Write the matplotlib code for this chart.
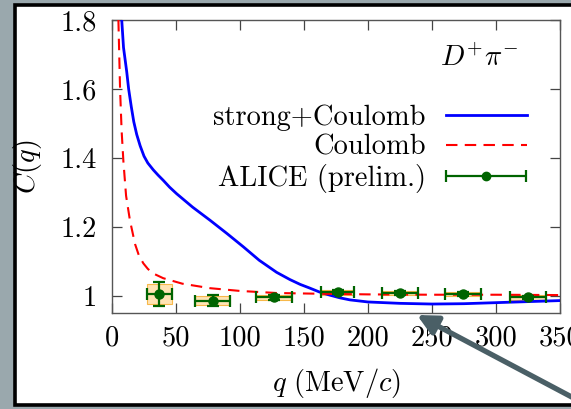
import numpy as np
import matplotlib
matplotlib.use('Agg')
import matplotlib.pyplot as plt
from matplotlib.patches import Rectangle
from matplotlib.legend_handler import HandlerErrorbar

plt.rcParams['font.family'] = 'serif'
plt.rcParams['font.serif'] = ['cmr10']
plt.rcParams['mathtext.fontset'] = 'cm'
plt.rcParams['axes.unicode_minus'] = False

# --- strong + Coulomb (blue) ---
q_strong = [7.6, 9.0, 11.5, 13.0, 15.0, 17.0, 19.3, 22.0, 25.0, 28.0, 32.3, 36.0,
            40.0, 45.0, 50.5, 63.0, 76.6, 90.0, 102.6, 115.0, 128.6, 139.0, 147.0,
            154.7, 162.0, 170.0, 178.0, 186.0, 200.0, 225.0, 250.0, 275.0, 300.0,
            325.0, 350.0]
c_strong = [1.80, 1.72, 1.65, 1.60, 1.55, 1.505, 1.468, 1.435, 1.405, 1.385, 1.365,
            1.350, 1.335, 1.315, 1.296, 1.257, 1.219, 1.18, 1.142, 1.103, 1.068,
            1.047, 1.033, 1.022, 1.011, 1.002, 0.994, 0.988, 0.982, 0.978, 0.976,
            0.977, 0.980, 0.983, 0.986]

# --- Coulomb only (red dashed) ---
q_coul = [5.0, 6.3, 7.5, 8.9, 11.0, 14.0, 18.0, 21.0, 24.5, 28.0, 32.0, 40.0,
          55.0, 76.6, 100.0, 128.6, 160.0, 200.0, 250.0, 300.0, 350.0]
c_coul = [1.80, 1.60, 1.48, 1.39, 1.29, 1.219, 1.15, 1.117, 1.094, 1.078, 1.065,
          1.051, 1.035, 1.022, 1.014, 1.008, 1.006, 1.004, 1.003, 1.003, 1.002]

# --- ALICE preliminary ---
q_data = [37.0, 78.6, 126.6, 176.3, 225.0, 274.5, 324.7]
c_data = [1.005, 0.986, 0.995, 1.010, 1.008, 1.005, 0.995]
q_err = [9.5, 13.7, 14.4, 13.0, 14.0, 14.0, 14.0]
c_stat = [0.036, 0.017, 0.008, 0.006, 0.005, 0.005, 0.005]
c_sys = [0.028, 0.013, 0.008, 0.007, 0.006, 0.006, 0.006]

x_ticks = [0, 50, 100, 150, 200, 250, 300, 350]
y_ticks = [1.0, 1.2, 1.4, 1.6, 1.8]
y_ticklabels = ['1', '1.2', '1.4', '1.6', '1.8']

W, H = 571, 409
fig = plt.figure(figsize=(W / 100, H / 100), dpi=100, facecolor='#9aa8ad')

# white slide panel with black frame
fig.patches.append(Rectangle((15 / W, 1 - 404.5 / H), 1.2, 400 / H,
                             transform=fig.transFigure, fc='white', ec='black',
                             lw=2.6, zorder=-5))

ax = fig.add_axes([112 / W, 1 - 313 / H, 448 / W, 293 / H])
ax.set_facecolor('white')

fs = 20.5
green = '#006400'

# systematic boxes
for q, c, dq, s in zip(q_data, c_data, q_err, c_sys):
    ax.add_patch(Rectangle((q - dq, c - s), 2 * dq, 2 * s, fc='#ffe3b3',
                           ec='#f7b84a', lw=0.8, zorder=2))

ax.plot(q_strong, c_strong, color='#0000ff', lw=2.0, zorder=3,
        label='strong+Coulomb')
ax.plot(q_coul, c_coul, color='#ff0000', lw=1.5, ls=(0, (5.5, 3.5)), zorder=3,
        label='Coulomb')
ax.errorbar(q_data, c_data, xerr=q_err, yerr=c_stat, fmt='o', color=green,
            ms=6.5, elinewidth=1.6, capsize=4, capthick=1.6, zorder=4)
# legend proxy (horizontal bar only)
ax.errorbar([-100], [1.0], xerr=[10], fmt='o', color=green, ms=6,
            elinewidth=1.6, capsize=4, capthick=1.6, label='ALICE (prelim.)')

ax.set_xlim(0, 350)
ax.set_ylim(0.95, 1.8)
ax.set_xticks(x_ticks)
ax.set_yticks(y_ticks)
ax.set_yticklabels(y_ticklabels)

ax.tick_params(direction='in', top=True, right=True, length=7, width=0.9,
               color='#444444', labelsize=fs)
ax.tick_params(axis='x', pad=9)
ax.tick_params(axis='y', pad=11)
for sp in ax.spines.values():
    sp.set_color('#555555')
    sp.set_linewidth(1.0)

ax.set_xlabel(r'$q\ (\mathrm{MeV}/c)$', fontsize=fs, labelpad=10)
ax.set_ylabel(r'$C(q)$', fontsize=fs, labelpad=12)

ax.text(0.907, 0.87, r'$D^{+}\pi^{-}$', transform=ax.transAxes, fontsize=fs,
        ha='right', va='center')

ax.legend(loc='center right', bbox_to_anchor=(0.926, 0.56), frameon=False,
          fontsize=fs, markerfirst=False, handlelength=2.85, handletextpad=0.7,
          labelspacing=0.12, borderaxespad=0, borderpad=0, numpoints=1,
          handler_map={type(ax.containers[-1]): HandlerErrorbar(xerr_size=1.4)})

# arrow drawn on the slide
ax.annotate('', xy=(417, H - 315), xycoords='figure pixels',
            xytext=(600, H - 412), textcoords='figure pixels',
            arrowprops=dict(arrowstyle='-|>', lw=3.8, color='#4a5f66',
                            mutation_scale=30, shrinkA=0, shrinkB=0),
            annotation_clip=False, zorder=10)

fig.savefig('out.png', dpi=100, facecolor=fig.get_facecolor())
